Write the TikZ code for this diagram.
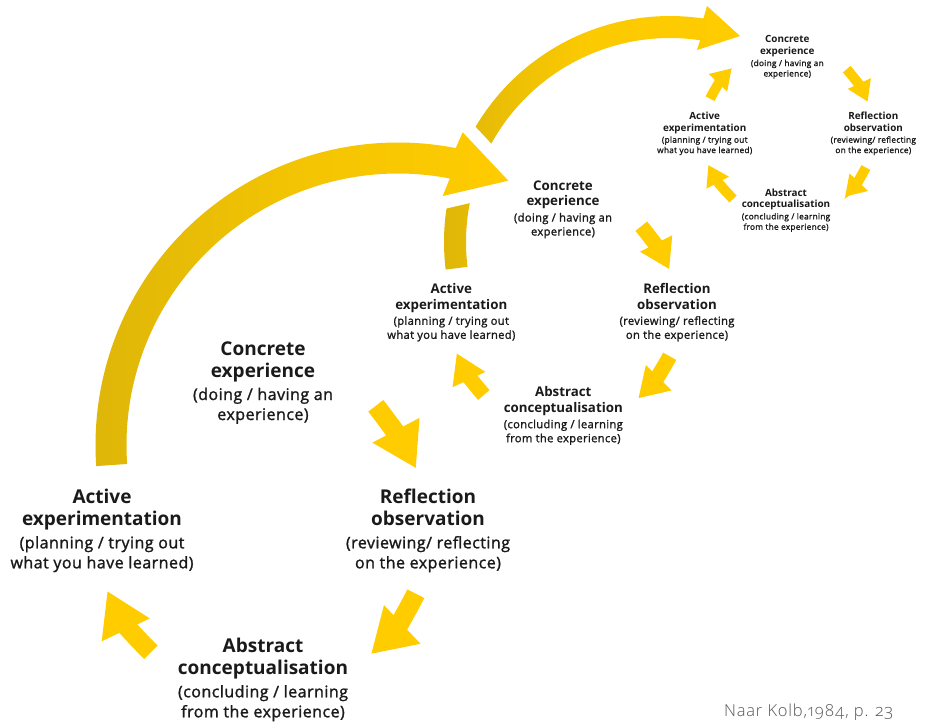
\documentclass[tikz,border=0pt]{standalone}
\usepackage{fontspec}
\setmainfont{Open Sans}
\newfontfamily\semib{Open Sans}[FakeBold=1.4, LetterSpace=3]
\IfFontExistsTF{Open Sans Light}{\newfontfamily\lightf{Open Sans Light}[Numbers=OldStyle, LetterSpace=5]}{%
  \newfontfamily\lightf{Open Sans}[Numbers=OldStyle, LetterSpace=5]}
\usetikzlibrary{arrows.meta}
\definecolor{kyellow}{RGB}{255,204,0}
\definecolor{kdark}{RGB}{222,182,8}
\definecolor{labelcol}{RGB}{26,26,26}
\definecolor{citegray}{RGB}{85,85,85}
\tikzset{
  lbl/.style={anchor=base, inner sep=0pt, outer sep=0pt, text=labelcol},
  bigarr/.style={draw=kyellow, line width=19pt, -{Triangle[width=50pt,length=43pt]}},
  midarr/.style={draw=kyellow, line width=15pt, -{Triangle[width=34pt,length=29pt]}},
  smallarr/.style={draw=kyellow, line width=10pt, -{Triangle[width=24pt,length=20pt]}},
}
% name, x, baseline y (image coords), scale, title1, title2, sub1, sub2
\newcommand\kblock[8]{%
  \node[lbl, font=\bfseries\fontsize{\fpeval{19*#4}}{\fpeval{23*#4}}\selectfont] (#1-a) at (#2,{-#3}) {#5};
  \node[lbl, font=\bfseries\fontsize{\fpeval{19*#4}}{\fpeval{23*#4}}\selectfont] (#1-b) at (#2,{-#3-22.5*#4}) {#6};
  \node[lbl, font=\fontsize{\fpeval{16*#4}}{\fpeval{19*#4}}\semib] (#1-c) at (#2,{-#3-45*#4}) {#7};
  \node[lbl, font=\fontsize{\fpeval{16*#4}}{\fpeval{19*#4}}\semib] (#1-d) at (#2,{-#3-65*#4}) {#8};
}
\def\bigarcpath{[shift={(398,-445)}] (184:302.5) arc[start angle=184, end angle=79, radius=302.5]
  -- (64.7,312.7) -- (110.3,264.3) -- (44.7,249) -- (79:271.5)
  arc[start angle=79, end angle=184, radius=271.5] -- cycle}
\def\midarcpath{[shift={(670,-242)}] (187:226) arc[start angle=187, end angle=81.5, radius=226]
  -- (37,236) -- (70,206) -- (27,192) -- (81.5:204)
  arc[start angle=81.5, end angle=187, radius=204] -- cycle}
\begin{document}
\begin{tikzpicture}[x=1pt,y=1pt]
\useasboundingbox (0,0) rectangle (925,-721);
\fill[white] (0,0) rectangle (925,-721);

% medium cycle: large arc (Active -> Concrete of small cycle)
\shade[left color=kdark, right color=kyellow, middle color=kyellow!90!kdark] \midarcpath;

% big cycle: large arc (Active -> Concrete of medium cycle), with white halo
\draw[white, line width=26pt, line join=round] \bigarcpath;
\shade[left color=kdark, right color=kyellow, middle color=kyellow!65!kdark] \bigarcpath;

% ---------- big cycle ----------
\kblock{bC}{263}{355}{1}{Concrete}{experience}{(doing / having an}{experience)}
\kblock{bA}{102}{503.3}{1}{Active}{experimentation}{(planning / trying out}{what you have learned)}
\kblock{bR}{428}{503.3}{1}{Reflection}{observation}{(reviewing/ reflecting}{on the experience)}
\kblock{bB}{263}{652.3}{1}{Abstract}{conceptualisation}{(concluding / learning}{from the experience)}

\coordinate (bCR1) at (375.8,-405.8); \coordinate (bCR2) at (416,-468.3);
\coordinate (bRB1) at (415.8,-593.7); \coordinate (bRB2) at (371,-654);
\coordinate (bBA1) at (150.8,-652.2); \coordinate (bBA2) at (107.3,-591);
\draw[bigarr] (bCR1) to[bend left=5] (bCR2);
\draw[bigarr] (bRB1) to[bend left=10] (bRB2);
\draw[bigarr] (bBA1) to[bend left=10] (bBA2);

% ---------- medium cycle ----------
\kblock{mC}{563}{190}{0.7}{Concrete}{experience}{(doing / having an}{experience)}
\kblock{mA}{451.3}{293.3}{0.7}{Active}{experimentation}{(planning / trying out}{what you have learned)}
\kblock{mR}{677}{293.3}{0.7}{Reflection}{observation}{(reviewing/ reflecting}{on the experience)}
\kblock{mB}{563.3}{396.7}{0.7}{Abstract}{conceptualisation}{(concluding / learning}{from the experience)}

\coordinate (mCR1) at (641.3,-226.2); \coordinate (mCR2) at (669.3,-269.3);
\coordinate (mRB1) at (669.7,-356.3); \coordinate (mRB2) at (638.3,-398.3);
\coordinate (mBA1) at (483.8,-395);   \coordinate (mBA2) at (456.7,-353.3);
\draw[midarr] (mCR1) to[bend left=6] (mCR2);
\draw[midarr] (mRB1) to[bend left=8] (mRB2);
\draw[midarr] (mBA1) to[bend left=8] (mBA2);

% ---------- small cycle ----------
\kblock{sC}{787.3}{42.7}{0.52}{Concrete}{experience}{(doing / having an}{experience)}
\kblock{sA}{704.7}{119.3}{0.52}{Active}{experimentation}{(planning / trying out}{what you have learned)}
\kblock{sR}{873.3}{119.3}{0.52}{Reflection}{observation}{(reviewing/ reflecting}{on the experience)}
\kblock{sB}{786}{196}{0.52}{Abstract}{conceptualisation}{(concluding / learning}{from the experience)}

\coordinate (sAC1) at (710,-98.7);   \coordinate (sAC2) at (731.7,-68.3);
\coordinate (sCR1) at (846.7,-69.2); \coordinate (sCR2) at (867.7,-101.7);
\coordinate (sRB1) at (865.8,-167.5); \coordinate (sRB2) at (845,-196.7);
\coordinate (sBA1) at (733,-199);    \coordinate (sBA2) at (708.3,-165);
\draw[smallarr] (sAC1) to[bend left=8] (sAC2);
\draw[smallarr] (sCR1) to[bend left=8] (sCR2);
\draw[smallarr] (sRB1) to[bend left=8] (sRB2);
\draw[smallarr] (sBA1) to[bend left=8] (sBA2);

% citation
\node[anchor=base east, inner sep=0pt, font=\lightf\fontsize{16.5}{19}\selectfont, text=citegray] (cite) at (893,-716.5) {Naar Kolb,1984, p. 23};
\end{tikzpicture}
\end{document}
